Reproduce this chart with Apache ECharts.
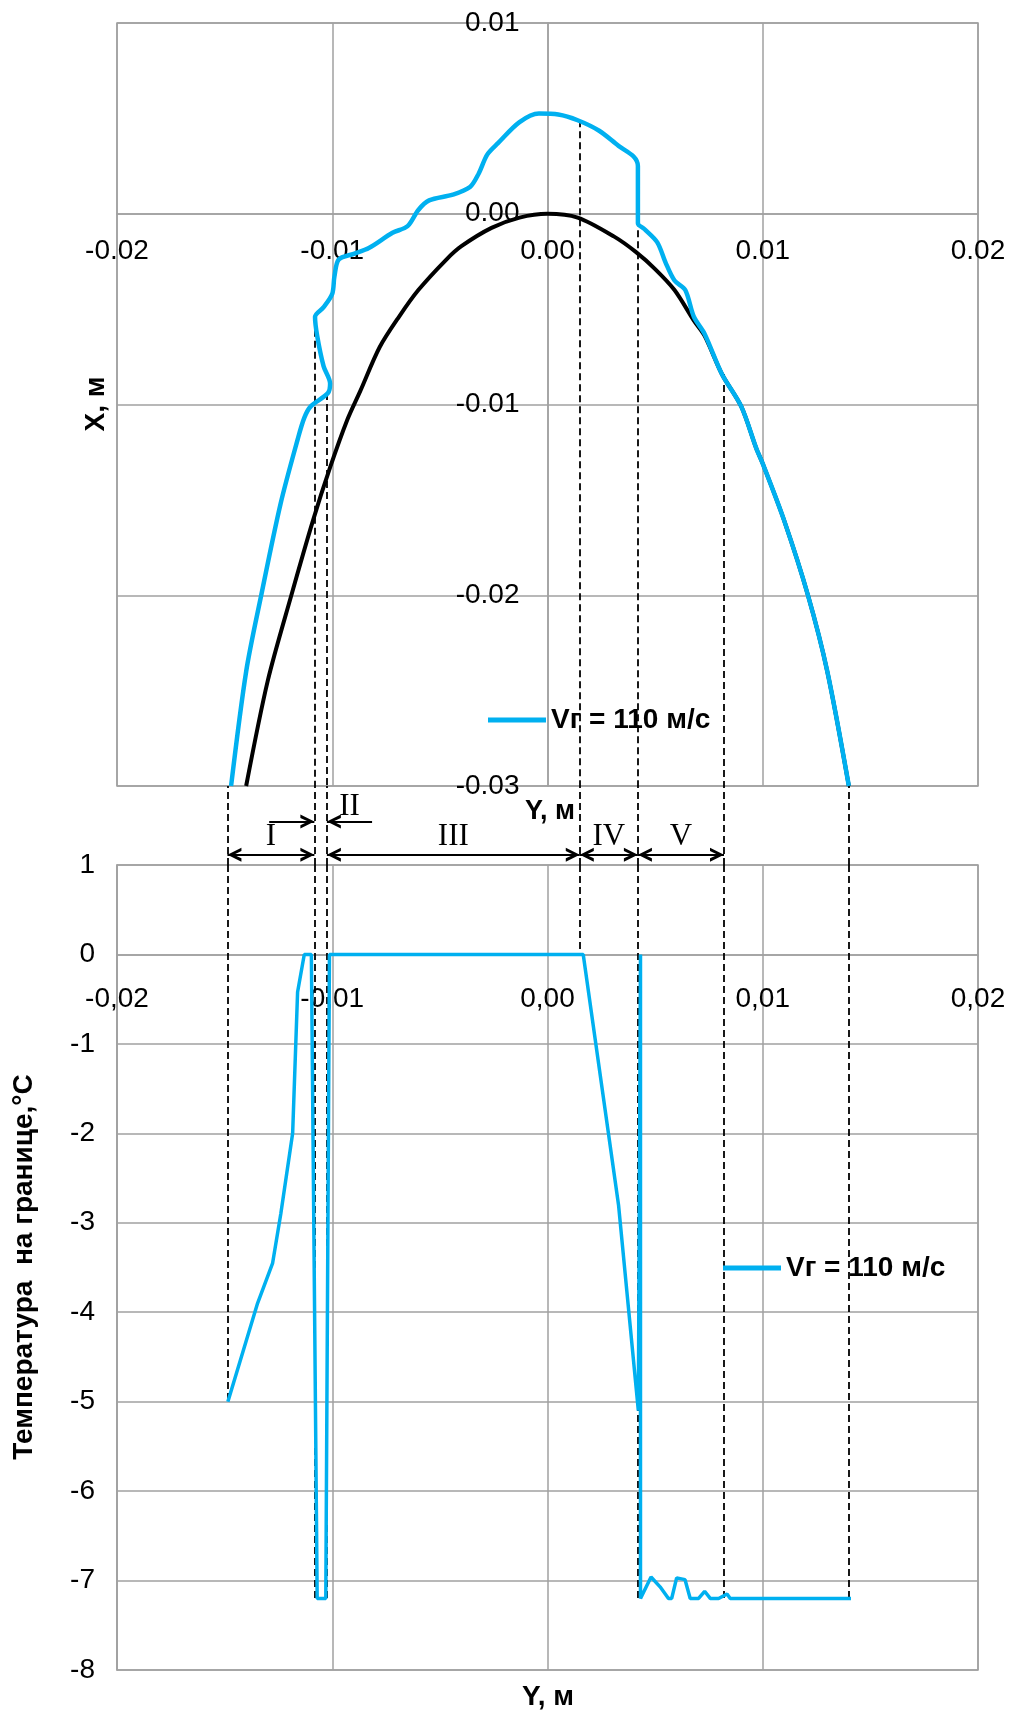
<!DOCTYPE html>
<html>
<head>
<meta charset="utf-8">
<title>Профиль обледенения и температура на границе</title>
<script src="https://cdn.jsdelivr.net/npm/echarts@6/dist/echarts.min.js"></script>
<style>
  html, body { margin: 0; padding: 0; background: #fff; }
  #chart { width: 1015px; height: 1713px; }
</style>
</head>
<body>
<div id="chart"></div>
<script>
const seriesName = 'Vг = 110 м/с';

// ice profile, Y (m) and X (m)
const iceY = [-0.0147, -0.0140, -0.0133, -0.0124, -0.0116, -0.0113, -0.0110, -0.0102, -0.0101, -0.0104,
  -0.0107, -0.0108, -0.0104, -0.0100, -0.0099, -0.0097, -0.0090, -0.0083, -0.0072, -0.0065,
  -0.0060, -0.0055, -0.0044, -0.0036, -0.0032, -0.0028, -0.0023, -0.0013, -0.0004, 0.0005,
  0.0014, 0.0024, 0.0033, 0.0040, 0.0042, 0.0042, 0.0045, 0.0051, 0.0055, 0.0059,
  0.0064, 0.0068, 0.0073, 0.0081, 0.0090, 0.0097, 0.0100, 0.0110, 0.0121, 0.0130, 0.0140];
const iceX = [-0.0300, -0.0240, -0.0200, -0.0152, -0.0118, -0.0107, -0.0101, -0.0094, -0.0089, -0.0080,
  -0.0064, -0.0054, -0.0049, -0.0042, -0.0033, -0.0024, -0.0021, -0.0018, -0.0010, -0.00065,
  0.0002, 0.0007, 0.0010, 0.0014, 0.0021, 0.0031, 0.0037, 0.0048, 0.00525, 0.0052,
  0.0049, 0.00435, 0.00356, 0.0030, 0.0025, -0.0005, -0.0008, -0.0015, -0.0026, -0.0035,
  -0.0040, -0.0054, -0.0063, -0.0084, -0.0101, -0.0123, -0.0131, -0.0161, -0.0200, -0.0240, -0.0300];

// clean profile (black)
const bodyY = [-0.0140, -0.0130, -0.0119, -0.0109, -0.0101, -0.0093, -0.0087, -0.0078, -0.0069, -0.0060,
  -0.0047, -0.0040, -0.0026, -0.0013, 0, 0.0014, 0.0031, 0.0041, 0.0050, 0.0059,
  0.0068, 0.0073, 0.0081, 0.0090, 0.0097, 0.0100, 0.0110, 0.0121, 0.0130, 0.0140];
const bodyX = [-0.0300, -0.0245, -0.0200, -0.0161, -0.0133, -0.0108, -0.0093, -0.0070, -0.0054, -0.0040,
  -0.0024, -0.0017, -0.00074, -0.0002, 0, -0.0002, -0.0012, -0.0020, -0.0029, -0.0040,
  -0.0056, -0.0064, -0.0084, -0.0101, -0.0123, -0.0131, -0.0161, -0.0200, -0.0240, -0.0300];

// temperature on the boundary
const tempY = [-0.01485, -0.01347, -0.01277, -0.01239, -0.01184, -0.01161, -0.01130, -0.01097, -0.01070, -0.01030,
  -0.01013, 0.00166, 0.00330, 0.00422, 0.00432, 0.00432, 0.00481, 0.00523, 0.00562, 0.00577,
  0.00600, 0.00639, 0.00663, 0.00702, 0.00730, 0.00756, 0.00795, 0.00834, 0.00849, 0.01410];
const tempT = [-5.0, -3.9, -3.45, -2.9, -2.0, -0.42, 0, 0, -7.2, -7.2,
  0, 0, -2.8, -5.1, 0, -7.2, -6.96, -7.07, -7.2, -7.2,
  -6.97, -6.99, -7.2, -7.2, -7.12, -7.2, -7.2, -7.15, -7.2, -7.2];

// zone borders (dashed lines): Y, where they leave the upper curve, where they end on the lower one
const zoneBorders = [-0.01487, -0.01083, -0.01025, 0.0015, 0.0042, 0.0082, 0.0140];
const zoneTopX = [-0.03, -0.0055, -0.0094, 0.0049, 0.0026, -0.0084, -0.03];
const zoneBottomT = [-5, -7.2, -7.2, 0, -7.2, -7.2, -7.2];
const zoneNames = ['I', 'II', 'III', 'IV', 'V'];

const grey = '#a0a0a0';
const sans = '"Liberation Sans", Arial, sans-serif';
const serif = '"Liberation Serif", "Times New Roman", serif';
// open arrow head; the empty points pad the box so the tip sits in its centre
const chevron = 'path://M0,0 L0,0 M20,0 L20,0 M10,10 L15,20 L12.6,20 L10,14.5 L7.4,20 L5,20 Z';

const b = zoneBorders;
const arrowRow = 0.13, arrowRowII = 0.55, labelRow = 0.36, labelRowII = 0.74;
const stubII = 0.0021;

// grid boxes
const topGrid = { left: 117, top: 23, width: 861, height: 763 };
const botGrid = { left: 117, top: 865, width: 861, height: 805 };

function pairs(xs, ys) { return xs.map((x, i) => [x, ys[i]]); }

// the axes cross at zero like in Excel: shift them into the plot with offset
function valueAxis(gridIndex, min, max, interval, labelFmt, margin, offset) {
  return {
    gridIndex: gridIndex, type: 'value', min: min, max: max, interval: interval, offset: offset,
    axisLine: { onZero: false, lineStyle: { color: grey, width: 1.5 } },
    axisTick: { show: false },
    splitLine: { lineStyle: { color: grey, width: 1.5 } },
    axisLabel: { formatter: labelFmt, fontSize: 28, color: '#000', fontFamily: sans, margin: margin }
  };
}
const dot = v => v.toFixed(2);
const comma = v => v.toFixed(2).replace('.', ',');

const topZeroX = -topGrid.height * (0 - (-0.03)) / 0.04;   // x-axis at X = 0
const topZeroY = -topGrid.width * (0 - (-0.02)) / 0.04;    // y-axis at Y = 0
const botZeroX = -botGrid.height * (0 - (-8)) / 9;         // x-axis at T = 0

const dashStyle = { color: '#000', width: 1.8, type: [7, 4], opacity: 1 };
const arrowStyle = { color: '#000', width: 2.2, opacity: 1 };

const chart = echarts.init(document.getElementById('chart'));
const option = {
  animation: false,
  backgroundColor: '#fff',
  grid: [
    Object.assign({ show: true, borderColor: grey, borderWidth: 1.5 }, topGrid),
    { left: 117, top: 786, width: 861, height: 79 },
    Object.assign({ show: true, borderColor: grey, borderWidth: 1.5 }, botGrid)
  ],
  xAxis: [
    Object.assign(valueAxis(0, -0.02, 0.02, 0.01, dot, 24, topZeroX), { position: 'bottom' }),
    { gridIndex: 1, type: 'value', min: -0.02, max: 0.02, show: false },
    Object.assign(valueAxis(2, -0.02, 0.02, 0.01, comma, 31, botZeroX), { position: 'bottom' })
  ],
  yAxis: [
    Object.assign(valueAxis(0, -0.03, 0.01, 0.01, dot, 28, topZeroY), { position: 'left' }),
    { gridIndex: 1, type: 'value', min: 0, max: 1, show: false },
    Object.assign(valueAxis(2, -8, 1, 1, v => String(v), 22, 0), { position: 'left' })
  ],
  legend: [
    {
      data: [seriesName], left: 483, top: 700, icon: 'rect', itemWidth: 58, itemHeight: 5,
      selectedMode: false,
      textStyle: { fontSize: 28, fontWeight: 'bold', fontFamily: sans, color: '#000', lineHeight: 30 }
    },
    {
      data: [seriesName], left: 718, top: 1248, icon: 'rect', itemWidth: 58, itemHeight: 5,
      selectedMode: false,
      textStyle: { fontSize: 28, fontWeight: 'bold', fontFamily: sans, color: '#000', lineHeight: 30 }
    }
  ],
  graphic: [
    { type: 'text', x: 96, y: 404, rotation: Math.PI / 2,
      style: { text: 'X, м', font: 'bold 28px ' + sans, fill: '#000', align: 'center', verticalAlign: 'middle', textAlign: 'center', textVerticalAlign: 'middle' } },
    { type: 'text', x: 550, y: 812,
      style: { text: 'Y, м', font: 'bold 27px ' + sans, fill: '#000', align: 'center', verticalAlign: 'middle', textAlign: 'center', textVerticalAlign: 'middle' } },
    { type: 'text', x: 24, y: 1267, rotation: Math.PI / 2,
      style: { text: 'Температура  на границе,°С', font: 'bold 28px ' + sans, fill: '#000', align: 'center', verticalAlign: 'middle', textAlign: 'center', textVerticalAlign: 'middle' } },
    { type: 'text', x: 548, y: 1697,
      style: { text: 'Y, м', font: 'bold 28px ' + sans, fill: '#000', align: 'center', verticalAlign: 'middle', textAlign: 'center', textVerticalAlign: 'middle' } }
  ],
  series: [
    {
      name: 'contour', type: 'line', xAxisIndex: 0, yAxisIndex: 0,
      data: pairs(bodyY, bodyX), symbol: 'none', smooth: 0.3,
      lineStyle: { color: '#000', width: 4 }, itemStyle: { color: '#000' }
    },
    {
      name: seriesName, type: 'line', xAxisIndex: 0, yAxisIndex: 0,
      data: pairs(iceY, iceX), symbol: 'none', smooth: 0.3,
      lineStyle: { color: '#00b0f0', width: 4.5 }, itemStyle: { color: '#00b0f0' }
    },
    {
      name: seriesName, type: 'line', xAxisIndex: 2, yAxisIndex: 2,
      data: pairs(tempY, tempT), symbol: 'none',
      lineStyle: { color: '#00b0f0', width: 3.5 }, itemStyle: { color: '#00b0f0' }
    },
    {
      type: 'lines', coordinateSystem: 'cartesian2d', xAxisIndex: 0, yAxisIndex: 0, z: 3, silent: true,
      data: b.map((y, i) => ({ coords: [[y, zoneTopX[i]], [y, -0.03]] })),
      lineStyle: dashStyle
    },
    {
      type: 'lines', coordinateSystem: 'cartesian2d', xAxisIndex: 1, yAxisIndex: 1, z: 3, silent: true,
      data: b.map(y => ({ coords: [[y, 0], [y, 1]] })),
      lineStyle: dashStyle
    },
    {
      type: 'lines', coordinateSystem: 'cartesian2d', xAxisIndex: 2, yAxisIndex: 2, z: 3, silent: true,
      data: b.map((y, i) => ({ coords: [[y, 1], [y, zoneBottomT[i]]] })),
      lineStyle: dashStyle
    },
    {
      type: 'lines', coordinateSystem: 'cartesian2d', xAxisIndex: 1, yAxisIndex: 1, z: 4, silent: true,
      symbol: [chevron, chevron], symbolSize: 28,
      data: [[b[0], b[1]], [b[2], b[3]], [b[3], b[4]], [b[4], b[5]]]
        .map(s => ({ coords: [[s[0], arrowRow], [s[1], arrowRow]] })),
      lineStyle: arrowStyle
    },
    {
      type: 'lines', coordinateSystem: 'cartesian2d', xAxisIndex: 1, yAxisIndex: 1, z: 4, silent: true,
      symbol: ['none', chevron], symbolSize: 28,
      data: [
        { coords: [[b[1] - stubII, arrowRowII], [b[1], arrowRowII]] },
        { coords: [[b[2] + stubII, arrowRowII], [b[2], arrowRowII]] }
      ],
      lineStyle: arrowStyle
    },
    {
      type: 'scatter', xAxisIndex: 1, yAxisIndex: 1, z: 5, silent: true,
      symbolSize: 1, itemStyle: { color: 'rgba(0,0,0,0)' },
      data: [
        { name: zoneNames[0], value: [(b[0] + b[1]) / 2, labelRow] },
        { name: zoneNames[1], value: [b[2] + stubII / 2, labelRowII] },
        { name: zoneNames[2], value: [(b[2] + b[3]) / 2, labelRow] },
        { name: zoneNames[3], value: [(b[3] + b[4]) / 2, labelRow] },
        { name: zoneNames[4], value: [(b[4] + b[5]) / 2, labelRow] }
      ],
      label: { show: true, position: 'inside', formatter: '{b}', fontFamily: serif, fontSize: 31, color: '#000', opacity: 1 }
    }
  ]
};
chart.setOption(option);
</script>
</body>
</html>
